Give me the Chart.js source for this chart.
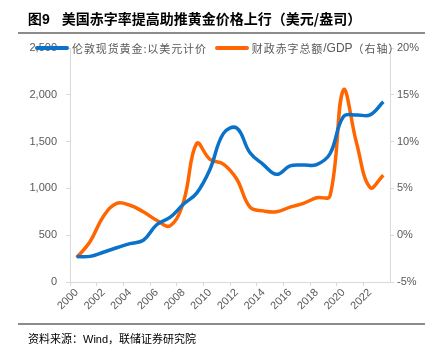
<!DOCTYPE html>
<html>
<head>
<meta charset="utf-8">
<script src="https://cdn.jsdelivr.net/npm/chart.js@4"></script>
<style>
  body { margin: 0; background: #fff; width: 435px; height: 354px; position: relative; overflow: hidden; font-family: "Noto Sans CJK SC", sans-serif; }
  #title { position: absolute; left: 28px; top: 8px; font-size: 14px; font-weight: bold; color: #000; white-space: nowrap; }
  #title .num { font-family: "Liberation Sans", sans-serif; margin-right: 12px; }
  #topLine { position: absolute; left: 18px; top: 32px; width: 407px; height: 2px; background: #8c8c8c; }
  #botLine { position: absolute; left: 18px; top: 323px; width: 407px; height: 2px; background: #8c8c8c; }
  #source { position: absolute; left: 28px; top: 330px; font-size: 11px; color: #000; white-space: nowrap; }
  #source .w { font-family: "Liberation Sans", sans-serif; }
  #legend { position: absolute; left: 35px; top: 40px; font-size: 11px; color: #595959; white-space: nowrap; display: flex; align-items: center; letter-spacing: 0.9px; }
  #legend .sw { display: inline-block; width: 34px; height: 4px; border-radius: 2px; margin-right: 3px; }
  #legend .item { display: flex; align-items: center; margin-right: 8px; }
  #legend .lat { font-family: "Liberation Sans", sans-serif; letter-spacing: 0; font-size: 12px; }
  #wrap { position: absolute; left: 0; top: 0; }
</style>
</head>
<body>
<div id="wrap"><canvas id="c" width="435" height="354"></canvas></div>
<div id="title"><span class="num">图9</span>美国赤字率提高助推黄金价格上行（美元/盎司）</div>
<div id="topLine"></div>
<div id="legend">
  <span class="item"><span class="sw" style="background:#0a72c8"></span>伦敦现货黄金:以美元计价</span>
  <span class="item"><span class="sw" style="background:#ff6600"></span>财政赤字总额<span class="lat">/GDP</span>（右轴）</span>
</div>
<div id="botLine"></div>
<div id="source">资料来源：<span class="w">Wind</span>，联储证券研究院</div>
<script>
const years = ["2000","2001","2002","2003","2004","2005","2006","2007","2008","2009","2010","2011",
  "2012","2013","2014","2015","2016","2017","2018","2019","2020","2021","2022","2023"];
const goldPrice = [272, 274, 318, 366, 410, 446, 612, 690, 830, 950, 1205, 1585,
  1645, 1380, 1255, 1150, 1240, 1250, 1255, 1370, 1765, 1785, 1785, 1925];
const deficitRatio = [-2.4, -0.7, 2.0, 3.4, 3.2, 2.5, 1.6, 1.0, 3.5, 9.8, 8.1, 7.6,
  6.0, 3.0, 2.6, 2.5, 3.0, 3.4, 4.0, 4.2, 15.5, 9.8, 5.1, 6.4];
const leftTicks = [0, 500, 1000, 1500, 2000, 2500];
const rightTicks = [-5, 0, 5, 10, 15, 20];

const axisColor = "#d9d9d9";
const tickFont = { family: "Liberation Sans, Arial, sans-serif", size: 11 };

new Chart(document.getElementById("c"), {
  type: "line",
  data: {
    labels: years,
    datasets: [
      {
        label: "伦敦现货黄金:以美元计价",
        data: goldPrice,
        borderColor: "#0a72c8",
        borderWidth: 3.5,
        pointRadius: 0,
        tension: 0.4,
        yAxisID: "y",
      },
      {
        label: "财政赤字总额/GDP（右轴）",
        data: deficitRatio,
        borderColor: "#ff6600",
        borderWidth: 3.5,
        pointRadius: 0,
        tension: 0.4,
        yAxisID: "y1",
      },
    ],
  },
  options: {
    responsive: false,
    animation: false,
    layout: { padding: { top: 48, left: 0, right: 0, bottom: 0 } },
    plugins: { legend: { display: false }, tooltip: { enabled: false } },
    scales: {
      x: {
        type: "category",
        offset: true,
        afterFit: (s) => { s.height = 72; },
        grid: {
          offset: true,
          drawOnChartArea: false,
          drawTicks: true,
          tickLength: 4,
          tickColor: (ctx) => (ctx.index % 2 === 0 ? axisColor : "rgba(0,0,0,0)"),
        },
        border: { color: axisColor, width: 1 },
        ticks: {
          autoSkip: false,
          maxRotation: 45,
          minRotation: 45,
          color: "#595959",
          font: tickFont,
          padding: 0,
          callback: (v, i) => (i % 2 === 0 ? years[i] : ""),
        },
      },
      y: {
        position: "left",
        min: 0,
        max: 2500,
        afterFit: (s) => { s.width = 70; },
        afterBuildTicks: (s) => { s.ticks = leftTicks.map((v) => ({ value: v })); },
        grid: { drawOnChartArea: false, tickLength: 4, tickColor: axisColor },
        border: { color: axisColor, width: 1 },
        ticks: {
          color: "#595959",
          font: tickFont,
          padding: 9,
          callback: (v) => v.toLocaleString("en-US"),
        },
      },
      y1: {
        position: "right",
        min: -5,
        max: 20,
        afterFit: (s) => { s.width = 45; },
        afterBuildTicks: (s) => { s.ticks = rightTicks.map((v) => ({ value: v })); },
        grid: { drawOnChartArea: false, tickLength: 4, tickColor: axisColor },
        border: { color: axisColor, width: 1 },
        ticks: {
          color: "#595959",
          font: tickFont,
          padding: 3,
          callback: (v) => v + "%",
        },
      },
    },
  },
});
</script>
</body>
</html>
